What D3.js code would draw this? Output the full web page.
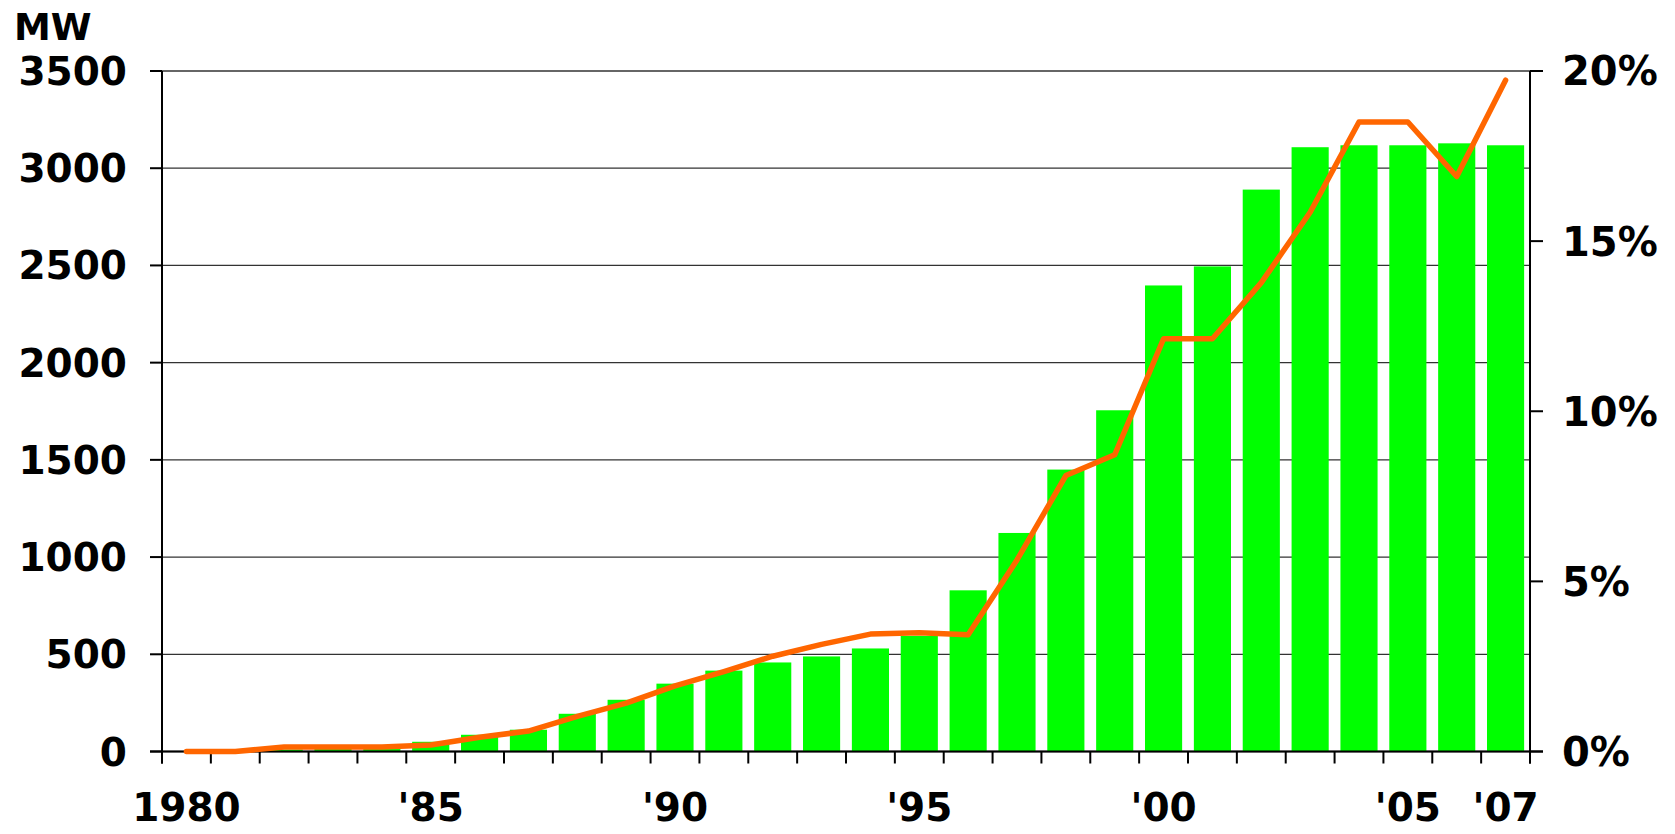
<!DOCTYPE html>
<html>
<head>
<meta charset="utf-8">
<script src="https://cdn.jsdelivr.net/npm/d3@7"></script>
<style>
  html, body { margin: 0; padding: 0; background: #fff; }
  svg { display: block; }
  text { font-family: "DejaVu Sans", Verdana, sans-serif; font-weight: bold; fill: #000; }
</style>
</head>
<body>
<svg id="chart" width="1675" height="834"></svg>
<script>
const years = [1980,1981,1982,1983,1984,1985,1986,1987,1988,1989,1990,1991,1992,1993,
               1994,1995,1996,1997,1998,1999,2000,2001,2002,2003,2004,2005,2006,2007];
const capacityMW = [0,0,10,15,20,50,86,112,194,266,349,416,458,489,
                    530,594,829,1124,1450,1755,2397,2495,2890,3108,3118,3118,3128,3118];
const sharePct = [0,0,0.13,0.13,0.13,0.19,0.42,0.6,1.03,1.42,1.93,2.35,2.8,3.15,
                  3.45,3.49,3.43,5.63,8.11,8.72,12.13,12.13,13.78,15.85,18.5,18.5,16.9,19.73];
const xLabels = {1980:"1980",1985:"'85",1990:"'90",1995:"'95",2000:"'00",2005:"'05",2007:"'07"};
const leftTicks = [0,500,1000,1500,2000,2500,3000,3500];
const rightTicks = [0,5,10,15,20];
const yTitle = "MW";

const L = 162, R = 1530, T = 71, B = 751.5;
const svg = d3.select("#chart");

const x = d3.scaleBand().domain(years).range([L, R]).paddingInner(0.24).paddingOuter(0.12);
const y = d3.scaleLinear().domain([0, 3500]).range([B, T]);
const y2 = d3.scaleLinear().domain([0, 20]).range([B, T]);
const step = x.step();
const boundary = d => x(d) - step * x.paddingInner() / 2;

// gridlines
svg.append("g").selectAll("line").data(leftTicks).join("line")
  .attr("x1", L).attr("x2", R)
  .attr("y1", d => y(d)).attr("y2", d => y(d))
  .attr("stroke", "#333").attr("stroke-width", 1.3);

// bars
svg.append("g").selectAll("rect").data(years).join("rect")
  .attr("x", d => x(d)).attr("width", x.bandwidth())
  .attr("y", (d, i) => y(capacityMW[i]))
  .attr("height", (d, i) => B - y(capacityMW[i]))
  .attr("fill", "#00ff00");

// axes lines
const axisG = svg.append("g").attr("stroke", "#000").attr("stroke-width", 2);
axisG.append("line").attr("x1", L).attr("x2", L).attr("y1", T).attr("y2", B + 12);
axisG.append("line").attr("x1", R).attr("x2", R).attr("y1", T).attr("y2", B + 12);
axisG.append("line").attr("x1", L - 12).attr("x2", R + 13).attr("y1", B).attr("y2", B);

// left ticks
axisG.selectAll(".lt").data(leftTicks).join("line").attr("class", "lt")
  .attr("x1", L - 12).attr("x2", L).attr("y1", d => y(d)).attr("y2", d => y(d));
// right ticks
axisG.selectAll(".rt").data(rightTicks).join("line").attr("class", "rt")
  .attr("x1", R).attr("x2", R + 13).attr("y1", d => y2(d)).attr("y2", d => y2(d));
// x ticks
const bounds = years.map(boundary).concat([R]);
axisG.selectAll(".xt").data(bounds).join("line").attr("class", "xt")
  .attr("x1", d => d).attr("x2", d => d).attr("y1", B).attr("y2", B + 12);

// line
const line = d3.line()
  .x((d, i) => x(years[i]) + x.bandwidth() / 2)
  .y(d => y2(d));
svg.append("path").datum(sharePct)
  .attr("d", line).attr("fill", "none")
  .attr("stroke", "#ff6600").attr("stroke-width", 5.5)
  .attr("stroke-linejoin", "round").attr("stroke-linecap", "round");

// labels
svg.append("g").selectAll("text").data(leftTicks).join("text")
  .attr("x", 127).attr("y", d => y(d)).attr("dy", "0.36em")
  .attr("text-anchor", "end").style("font-size", "39px")
  .text(d => d);

svg.append("g").selectAll("text").data(rightTicks).join("text")
  .attr("x", 1562).attr("y", d => y2(d)).attr("dy", "0.36em")
  .attr("text-anchor", "start").style("font-size", "40px")
  .text(d => d + "%");

svg.append("g").selectAll("text").data(Object.keys(xLabels)).join("text")
  .attr("x", d => x(+d) + x.bandwidth() / 2).attr("y", 821)
  .attr("text-anchor", "middle").style("font-size", "39px")
  .text(d => xLabels[d]);

svg.append("text").attr("x", 14).attr("y", 40).style("font-size", "37px").text(yTitle);
</script>
</body>
</html>
